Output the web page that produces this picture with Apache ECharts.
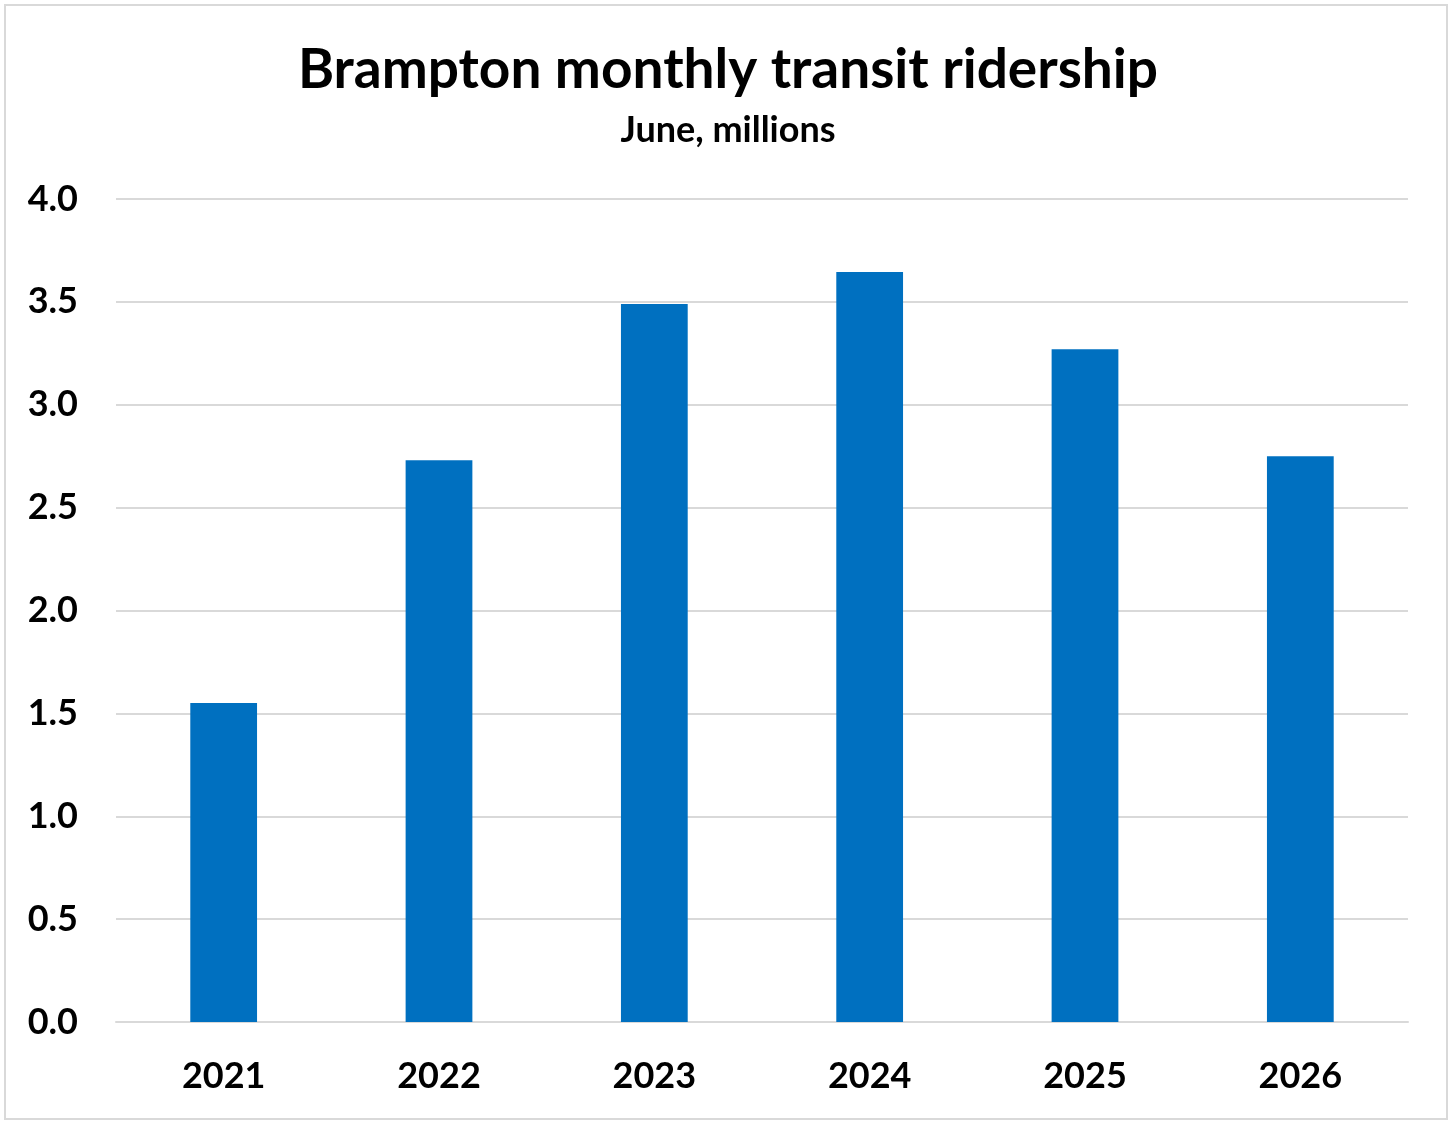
<!DOCTYPE html>
<html><head><meta charset="utf-8">
<script src="https://cdn.jsdelivr.net/npm/echarts@6/dist/echarts.min.js"></script>
<style>
html,body{margin:0;padding:0;background:#fff;}
#frame{position:absolute;left:4px;top:4px;width:1444px;height:1116px;border:2px solid #d9d9d9;box-sizing:border-box;}
#chart{position:absolute;left:0;top:0;width:1456px;height:1128px;}
</style></head>
<body>
<div id="frame"></div>
<div id="chart"></div>
<script>
const categories = ['2021','2022','2023','2024','2025','2026'];
const ridership = [1.55, 2.73, 3.49, 3.645, 3.27, 2.75];
const yTicks = ['0.0','0.5','1.0','1.5','2.0','2.5','3.0','3.5','4.0'];

const chart = echarts.init(document.getElementById('chart'));
const font = 'Lato, "Open Sans", sans-serif';
chart.setOption({
  animation: false,
  title: {
    text: 'Brampton monthly transit ridership',
    subtext: 'June, millions',
    left: 'center',
    top: 38,
    itemGap: 14,
    textStyle: {fontFamily: font, fontWeight: 'bold', fontSize: 55, color: '#000'},
    subtextStyle: {fontFamily: font, fontWeight: 'bold', fontSize: 36, color: '#000'}
  },
  grid: {left: 116, right: 48, top: 199, bottom: 106, containLabel: false},
  xAxis: {
    type: 'category',
    data: categories,
    axisLine: {lineStyle: {color: '#d9d9d9', width: 2}},
    axisTick: {show: false},
    axisLabel: {fontFamily: font, fontWeight: 'bold', fontSize: 36, color: '#000', margin: 36}
  },
  yAxis: {
    type: 'value',
    min: 0, max: 4, interval: 0.5,
    axisLine: {show: false},
    axisTick: {show: false},
    splitLine: {lineStyle: {color: '#d9d9d9', width: 2}},
    axisLabel: {
      fontFamily: font, fontWeight: 'bold', fontSize: 36, color: '#000', margin: 38,
      formatter: (v) => yTicks[Math.round(v * 2)] ?? v.toFixed(1)
    }
  },
  series: [{
    type: 'bar',
    data: ridership,
    barWidth: '31%',
    itemStyle: {color: '#0070c0'}
  }]
});
</script>
</body></html>
